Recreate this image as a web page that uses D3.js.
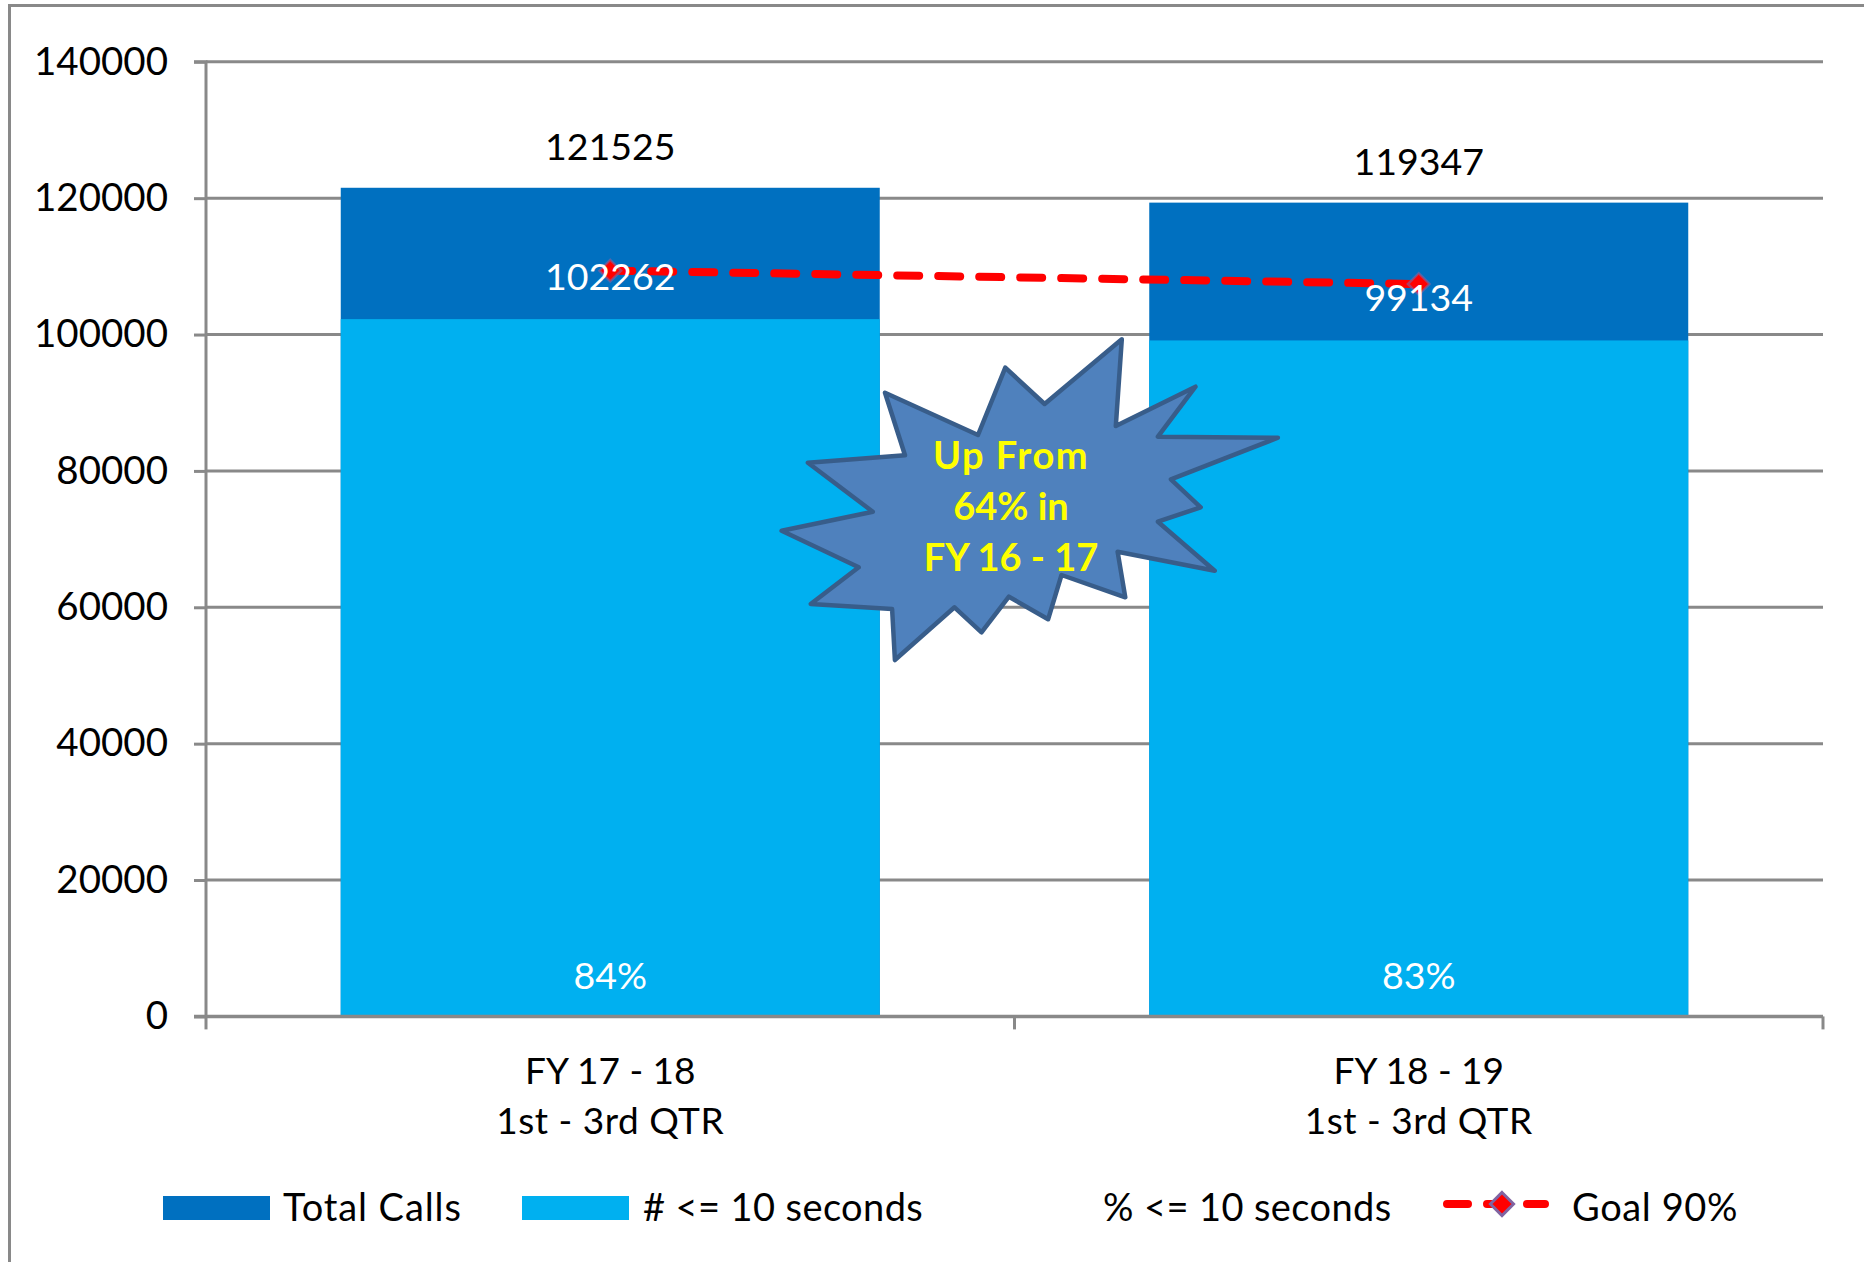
<!DOCTYPE html>
<html><head><meta charset="utf-8">
<script src="https://cdn.jsdelivr.net/npm/d3@7"></script>
<style>html,body{margin:0;padding:0;background:#fff;}svg{display:block;}</style>
</head><body>
<script>
const categories = [["FY 17 - 18","1st - 3rd QTR"],["FY 18 - 19","1st - 3rd QTR"]];
const totalCalls = [121525, 119347];
const within10 = [102262, 99134];
const pctLabels = ["84%", "83%"];
const goalPct = 0.9;
const yTicks = [0,20000,40000,60000,80000,100000,120000,140000];
const legendLabels = ["Total Calls", "# <= 10 seconds", "% <= 10 seconds", "Goal 90%"];
const starText = ["Up From", "64% in", "FY 16 - 17"];
// annotation starburst shape (pixel positions of the callout)
const starPts = [[1121.8,339.3],[1115.8,426],[1195.5,386.7],[1157.9,436.7],[1277.9,437.7],[1170.9,479.3],[1200.7,507.3],[1157.9,521.7],[1214.7,570.7],[1117.6,551.7],[1125.3,597.3],[1061.5,575],[1048.1,619.3],[1008.9,596.7],[981.5,632.3],[954.5,607.3],[894.9,660],[892.1,609],[810.7,604],[858.7,567.3],[781.6,530.7],[872.8,511.7],[807.9,462.7],[905,455.3],[885,392.7],[978,435],[1005.3,367.7],[1044.6,404]];

const W = 1864, H = 1262;
const FONT = "Lato, 'Open Sans', sans-serif";
const DARK = "#0070C0", LIGHT = "#00B0F0", GRID = "#898989";
const m = {left: 206, right: W - 1823, top: 61.8, bottom: H - 1016.4};

const svg = d3.select("body").append("svg").attr("width", W).attr("height", H)
  .style("font-family", FONT);

// outer chart border
svg.append("path").attr("d", `M9.5,${H} L9.5,5.5 L${W},5.5`).attr("fill","none")
  .attr("stroke", GRID).attr("stroke-width", 3);

const band = d3.scaleBand().domain(categories.map((d,i)=>i)).range([m.left, W - m.right]);
const y = d3.scaleLinear().domain([0, 140000]).range([H - m.bottom, m.top]);

// gridlines
svg.append("g").selectAll("line").data(yTicks.slice(1)).join("line")
  .attr("x1", m.left).attr("x2", W - m.right)
  .attr("y1", d => y(d)).attr("y2", d => y(d))
  .attr("stroke", GRID).attr("stroke-width", 3);

// bars
const bw = band.bandwidth() / 1.5;
const bx = i => band(i) + (band.bandwidth() - bw) / 2;
svg.append("g").selectAll("rect").data(totalCalls).join("rect")
  .attr("x", (d,i) => bx(i)).attr("width", bw)
  .attr("y", d => y(d)).attr("height", d => y(0) - y(d)).attr("fill", DARK);
svg.append("g").selectAll("rect").data(within10).join("rect")
  .attr("x", (d,i) => bx(i)).attr("width", bw)
  .attr("y", d => y(d)).attr("height", d => y(0) - y(d)).attr("fill", LIGHT);

// y axis
const yAxis = svg.append("g").attr("transform", `translate(${m.left},0)`)
  .call(d3.axisLeft(y).tickValues(yTicks).tickSize(12).tickPadding(26).tickFormat(d3.format("d")));
yAxis.selectAll("path,line").attr("stroke", GRID).attr("stroke-width", 3);
yAxis.select("path").attr("d", `M-12,${y(140000)}H0V${y(0)}`);
yAxis.selectAll("text").attr("font-size", 38.5).attr("font-family", FONT).attr("fill", "#000");

// x axis
const xg = svg.append("g").attr("transform", `translate(0,${y(0)})`);
xg.append("line").attr("x1", m.left - 12).attr("x2", W - m.right).attr("stroke", GRID).attr("stroke-width", 3.5);
xg.selectAll("line.t").data([0,1,2]).join("line").attr("class","t")
  .attr("x1", i => i < 2 ? band(i) : band(1) + band.bandwidth())
  .attr("x2", i => i < 2 ? band(i) : band(1) + band.bandwidth())
  .attr("y1", 0).attr("y2", 13).attr("stroke", GRID).attr("stroke-width", 3);
categories.forEach((c, i) => {
  const t = xg.append("text").attr("text-anchor","middle").attr("font-size", 37).attr("fill","#000");
  t.append("tspan").attr("x", band(i) + band.bandwidth()/2).attr("y", 68).text(c[0]);
  t.append("tspan").attr("x", band(i) + band.bandwidth()/2).attr("y", 118).attr("letter-spacing", 0.5).text(c[1]);
});

// value labels
const cx = i => band(i) + band.bandwidth()/2;
svg.append("g").selectAll("text").data(totalCalls).join("text")
  .attr("x", (d,i)=>cx(i)).attr("y", d => y(d) - 28).attr("text-anchor","middle")
  .attr("font-size", 37.5).attr("fill","#000").text(d => d);

// goal line
const goal = totalCalls.map(d => d * goalPct);
svg.append("path").datum(goal)
  .attr("d", d3.line().x((d,i)=>cx(i)).y(d=>y(d)))
  .attr("fill","none").attr("stroke","#FF0000").attr("stroke-width", 8)
  .attr("stroke-linecap","round").attr("stroke-dasharray","22,19");
const diamond = d3.symbol().type(d3.symbolDiamond2).size(300);
svg.append("g").selectAll("path").data(goal).join("path")
  .attr("transform", (d,i)=>`translate(${cx(i)},${y(d)})`)
  .attr("d", diamond).attr("fill","#FF0000").attr("stroke","#8064A2").attr("stroke-opacity",0.6).attr("stroke-width",2.5);

svg.append("g").selectAll("text").data(within10).join("text")
  .attr("x", (d,i)=>cx(i)).attr("y", d => y(d) - 29).attr("text-anchor","middle")
  .attr("font-size", 37.5).attr("fill","#fff").text(d => d);

svg.append("g").selectAll("text").data(pctLabels).join("text")
  .attr("x", (d,i)=>cx(i)).attr("y", y(0) - 27).attr("text-anchor","middle")
  .attr("font-size", 37.5).attr("fill","#fff").text(d => d);

// starburst annotation
svg.append("polygon").attr("points", starPts.map(p=>p.join(",")).join(" "))
  .attr("fill","#4F81BD").attr("stroke","#385D8A").attr("stroke-width",4.5).attr("stroke-linejoin","round");
svg.append("g").selectAll("text").data(starText).join("text")
  .attr("x", 1011).attr("y", (d,i)=> 469 + i*51).attr("text-anchor","middle")
  .attr("font-size", 38).attr("font-weight","bold").attr("fill","#FFFF00")
  .attr("letter-spacing", (d,i)=> i === 0 ? 1.5 : 0).text(d=>d);

// legend
const ly = 1208;
const lg = svg.append("g");
lg.append("rect").attr("x",163).attr("y",ly-12).attr("width",107).attr("height",24).attr("fill",DARK);
lg.append("rect").attr("x",522).attr("y",ly-12).attr("width",107).attr("height",24).attr("fill",LIGHT);
lg.append("line").attr("x1",1447).attr("x2",1545).attr("y1",ly-4).attr("y2",ly-4)
  .attr("stroke","#FF0000").attr("stroke-width",8).attr("stroke-linecap","round").attr("stroke-dasharray","21,19");
lg.append("path").attr("transform",`translate(1502,${ly-4})`).attr("d", d3.symbol().type(d3.symbolDiamond2).size(340))
  .attr("fill","#FF0000").attr("stroke","#8064A2").attr("stroke-width",3);
const lx = [283, 643, 1103, 1572];
const ls = [0.9, 0.4, 0.4, 0.6];
lg.selectAll("text").data(legendLabels).join("text")
  .attr("x",(d,i)=>lx[i]).attr("y", ly + 13).attr("font-size",38).attr("letter-spacing", (d,i)=>ls[i])
  .attr("fill","#000").text(d=>d);
</script>
</body></html>
